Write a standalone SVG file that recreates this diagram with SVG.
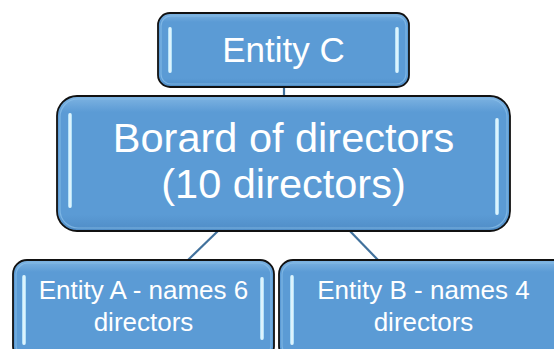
<svg xmlns="http://www.w3.org/2000/svg" width="554" height="349" viewBox="0 0 554 349">
  <defs>
    <linearGradient id="bar" x1="0" y1="0" x2="1" y2="0">
      <stop offset="0" stop-color="#9fd8f5"/>
      <stop offset="0.5" stop-color="#f2fcff"/>
      <stop offset="1" stop-color="#9fd8f5"/>
    </linearGradient>
    <linearGradient id="shade" x1="0" y1="0" x2="0" y2="1">
      <stop offset="0" stop-color="#7fb4e2"/>
      <stop offset="0.12" stop-color="#5b9bd5"/>
      <stop offset="0.88" stop-color="#5b9bd5"/>
      <stop offset="1" stop-color="#4f8cc6"/>
    </linearGradient>
  </defs>
  <style>
    .box { fill: url(#shade); stroke: #111; stroke-width: 1.8; }
    .inner { fill: none; stroke: #8cc0ea; stroke-width: 1.2; opacity: 0.7; }
    .hl { fill: url(#bar); }
    .lbl { font-family: "Liberation Sans", Arial, sans-serif; fill: #ffffff; text-anchor: middle; }
    .conn line { stroke: #41719c; stroke-width: 2.2; }
  </style>
  <rect width="554" height="349" fill="#ffffff"/>
  <g class="conn" id="connectors">
    <line x1="284" y1="87" x2="284" y2="97"/>
    <line x1="220" y1="229" x2="188" y2="260"/>
    <line x1="347" y1="228" x2="378" y2="260"/>
  </g>
  <g id="entityC">
    <rect class="box" x="158" y="13" width="251" height="74" rx="12"/>
    <rect class="inner" x="161" y="16" width="245" height="68" rx="10"/>
    <rect class="hl" x="168" y="27" width="4" height="46" rx="2"/>
    <rect class="hl" x="395" y="27" width="4" height="46" rx="2"/>
    <text class="lbl" x="283.5" y="62" font-size="35">Entity C</text>
  </g>
  <g id="board">
    <rect class="box" x="57" y="96" width="453" height="135" rx="20"/>
    <rect class="inner" x="60" y="99" width="447" height="129" rx="18"/>
    <rect class="hl" x="68" y="113" width="4" height="95" rx="2"/>
    <rect class="hl" x="495" y="118" width="4" height="97" rx="2"/>
    <text class="lbl" x="283.5" y="152" font-size="41.5">Borard of directors</text>
    <text class="lbl" x="283.5" y="198" font-size="41.5">(10 directors)</text>
  </g>
  <g id="entityA">
    <rect class="box" x="13" y="260" width="261" height="100" rx="14"/>
    <rect class="inner" x="16" y="263" width="255" height="94" rx="12"/>
    <rect class="hl" x="22" y="275" width="4" height="70" rx="2"/>
    <rect class="hl" x="260" y="277" width="4" height="63" rx="2"/>
    <text class="lbl" x="143.5" y="299" font-size="26">Entity A - names 6</text>
    <text class="lbl" x="143.5" y="331" font-size="26">directors</text>
  </g>
  <g id="entityB">
    <rect class="box" x="279" y="260" width="289" height="100" rx="14"/>
    <rect class="inner" x="282" y="263" width="283" height="94" rx="12"/>
    <rect class="hl" x="290" y="275" width="4" height="70" rx="2"/>
    <text class="lbl" x="423.5" y="299" font-size="26">Entity B - names 4</text>
    <text class="lbl" x="423.5" y="331" font-size="26">directors</text>
  </g>
</svg>
